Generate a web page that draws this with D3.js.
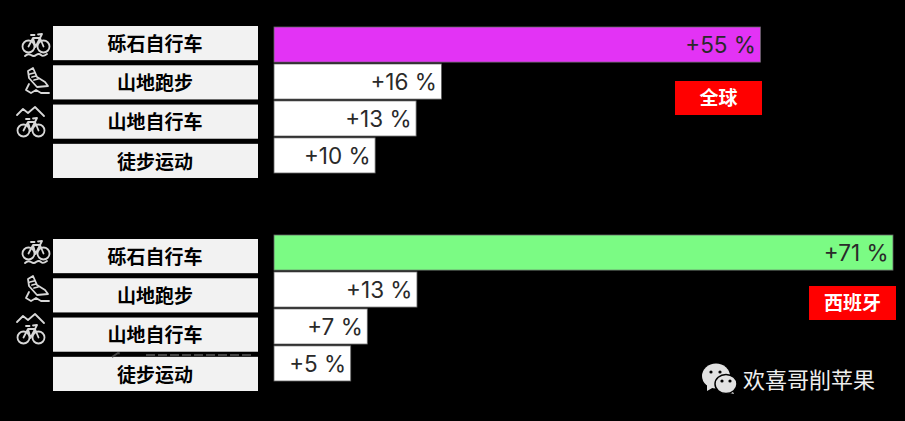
<!DOCTYPE html>
<html>
<head>
<meta charset="utf-8">
<script src="https://cdn.jsdelivr.net/npm/d3@7"></script>
<style>
  html, body { margin: 0; padding: 0; background: #000; }
  svg { display: block; }
  .cat { font-family: "Noto Sans CJK SC", sans-serif; font-weight: 700; font-size: 19px; fill: #000; }
  .val { font-family: "Inter", sans-serif; font-size: 22.5px; fill: #2a2a2a; }
  .tag { font-family: "Noto Sans CJK SC", sans-serif; font-weight: 700; font-size: 19px; fill: #fff; }
  .mark { font-family: "Noto Sans CJK SC", sans-serif; font-size: 22px; fill: #eee; }
  .icon { fill: none; stroke: #d8d8d8; stroke-width: 1.8; stroke-linecap: round; stroke-linejoin: round; }
</style>
</head>
<body>
<div id="chart"></div>
<script>
const categories = ["砾石自行车", "山地跑步", "山地自行车", "徒步运动"];
const iconKeys = ["gravel", "run", "mtb"];

// printed labels
const globalLabels = ["+55 %", "+16 %", "+13 %", "+10 %"];
const spainLabels = ["+71 %", "+13 %", "+7 %", "+5 %"];
// the bars are not drawn to the printed numbers, so their lengths are read separately
const globalLengths = [55.8, 19.2, 16.3, 11.6];
const spainLengths = [71, 16.4, 10.7, 8.8];

const width = 905;
const height = 421;

const svg = d3.select("#chart").append("svg").attr("width", width).attr("height", height);
svg.append("rect").attr("width", width).attr("height", height).attr("fill", "#000");

const x = d3.scaleLinear().domain([0, 71]).range([274, 893]);

function bike(g, dx, dy) {
  const b = g.append("g").attr("transform", `translate(${dx},${dy})`);
  b.append("circle").attr("cx", 6.5).attr("cy", 6.5).attr("r", 6);
  b.append("circle").attr("cx", 21.5).attr("cy", 6.5).attr("r", 6);
  b.append("path").attr("d", "M6.5 6.5L11 -2L18 -2L21.500 6.500M11 -2L13.500 7L18 -2M9 -5L12.500 -5M16 -5.500L20 -6L18 -2");
}

const icons = {
  gravel(g) {
    bike(g, 0, 0);
    g.append("path").attr("d", "M3 16q3 -3 6 -1t5 0q3 -2 5 0t6 -1");
  },
  run(g) {
    g.append("path").attr("d", "M2 -12L7 -15L11 -6L19 -1L22 3L11 4L3 -5ZM4 -9L8 -10M6 -6L10 -7M8 -3L12 -4");
    g.append("path").attr("d", "M3 1L0 7L5 10L10 7L15 10L23 10");
  },
  mtb(g) {
    g.append("path").attr("d", "M0 -4L6 -10L11 -6L18 -12L27 -3");
    bike(g, 0, 5);
  }
};

function panel(top, labels, lengths, barColor, boxTop, iconPos) {
  const y = d3.scaleBand().domain(categories).range([top, top + 146]).paddingInner(0.05);
  const yBox = d3.scaleBand().domain(categories).range([boxTop, boxTop + 152]).paddingInner(0.13);
  const g = svg.append("g");

  g.selectAll("rect.bar")
    .data(categories)
    .enter()
    .append("rect")
    .attr("class", "bar")
    .attr("x", x(0))
    .attr("y", (d) => y(d))
    .attr("width", (d, i) => x(lengths[i]) - x(0))
    .attr("height", y.bandwidth())
    .attr("fill", (d, i) => (i === 0 ? barColor : "#fff"))
    .attr("stroke", "#666")
    .attr("stroke-width", 0.8);

  g.selectAll("text.val")
    .data(categories)
    .enter()
    .append("text")
    .attr("class", "val")
    .attr("text-anchor", "end")
    .attr("x", (d, i) => x(lengths[i]) - 4.5)
    .attr("y", (d) => y(d) + y.bandwidth() / 2 + 8.5)
    .text((d, i) => labels[i]);

  g.selectAll("rect.box")
    .data(categories)
    .enter()
    .append("rect")
    .attr("class", "box")
    .attr("x", 53)
    .attr("y", (d) => yBox(d))
    .attr("width", 205)
    .attr("height", yBox.bandwidth())
    .attr("fill", "#f2f2f2");

  g.selectAll("text.cat")
    .data(categories)
    .enter()
    .append("text")
    .attr("class", "cat")
    .attr("text-anchor", "middle")
    .attr("x", 155)
    .attr("y", (d) => yBox(d) + yBox.bandwidth() / 2 + 7.8)
    .text((d) => d);

  iconKeys.forEach((k, i) => {
    const ic = g.append("g").attr("class", "icon").attr("transform", `translate(${iconPos[i][0]},${iconPos[i][1]})`);
    icons[k](ic);
  });
}

panel(27, globalLabels, globalLengths, "#e333f5", 26, [[22, 40], [26, 83], [17, 119]]);
panel(235, spainLabels, spainLengths, "#7bfb84", 239, [[22, 247], [26, 291], [17, 326]]);

// sliver of an image showing between the last two boxes of the lower panel
svg.append("path")
  .attr("d", "M112 357L118 353L122 354M146 355L254 355")
  .attr("fill", "none")
  .attr("stroke", "#444")
  .attr("stroke-width", 2)
  .attr("stroke-dasharray", "9 3");

function tag(text, left, top, w, h) {
  svg.append("rect").attr("x", left).attr("y", top).attr("width", w).attr("height", h).attr("fill", "#ff0000");
  svg.append("text").attr("class", "tag").attr("text-anchor", "middle").attr("x", left + w / 2).attr("y", top + h / 2 + 6.5).text(text);
}
tag("全球", 675, 81, 87, 34);
tag("西班牙", 809, 286, 87, 34);

// watermark
const wm = svg.append("g").attr("fill", "#e2e2e2");
wm.append("path").attr("d", "M707 384L707 391L714 387Z");
wm.append("ellipse").attr("cx", 716).attr("cy", 376).attr("rx", 14).attr("ry", 12.500);
wm.append("path").attr("d", "M731 388L734 394L726 392Z");
wm.append("ellipse").attr("cx", 726).attr("cy", 384).attr("rx", 11).attr("ry", 9.5).attr("stroke", "#000").attr("stroke-width", 1.5);
const eyes = [[711, 372], [720, 372], [722, 381], [730, 381]];
wm.selectAll("circle").data(eyes).enter().append("circle")
  .attr("cx", (d) => d[0]).attr("cy", (d) => d[1]).attr("r", 1.6).attr("fill", "#000");
svg.append("text").attr("class", "mark").attr("x", 743).attr("y", 388).text("欢喜哥削苹果");
</script>
</body>
</html>
